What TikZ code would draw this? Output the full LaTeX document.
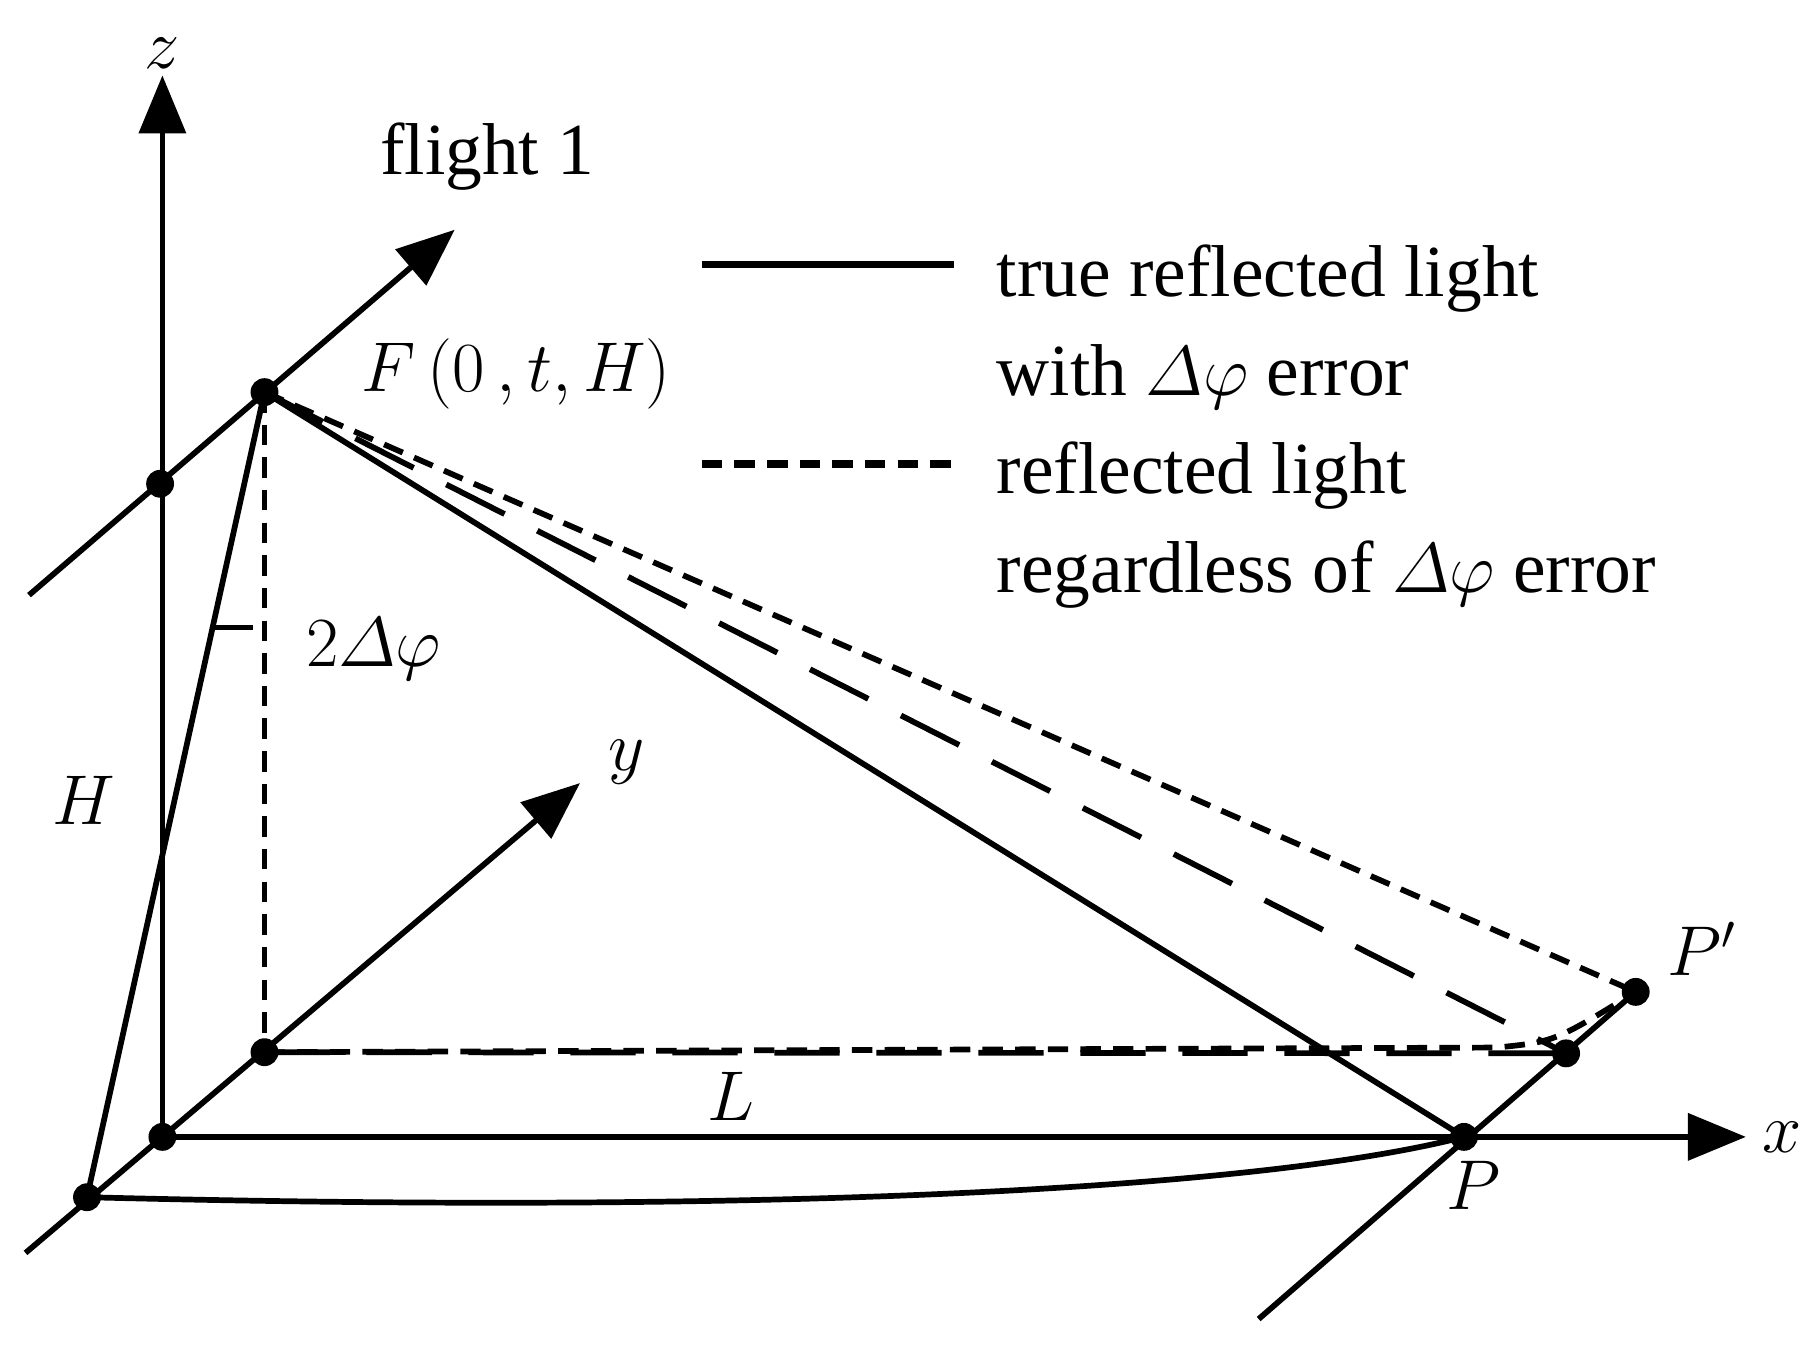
\documentclass[tikz,border=0pt]{standalone}
\usepackage{fontspec}
\setmainfont{Liberation Serif}
\usetikzlibrary{arrows.meta}
\newcommand{\dphi}{\mathnormal{\Delta}\varphi}
\begin{document}
\begin{tikzpicture}[x=0.01cm,y=-0.01cm,line width=1.4pt,
    axis/.style={-{Triangle[length=0.5cm,width=0.4cm]}},
    pt/.style={circle,fill,inner sep=0pt,minimum size=0.24cm},
    lbl/.style={font=\fontsize{18}{21}\selectfont},
    dots/.style={dash pattern=on 5pt off 3pt},
    longdash/.style={dash pattern=on 16pt off 9pt}]
    \useasboundingbox (0,0) rectangle (1568,1160);
    % ground and axes
    \coordinate (O) at (140,980);
    \coordinate (A) at (75,1032);
    \coordinate (Fp) at (228,907);
    \coordinate (F) at (228,338);
    \coordinate (P) at (1262,980);
    \coordinate (Q) at (1350,908);
    \coordinate (Pp) at (1410,855);
    \coordinate (K) at (1290,903);
    \draw[axis] (O) -- (140,65) node[lbl,above,inner sep=1pt] (zl) {$z$};
    \draw[axis] (O) -- (1505,980) node[lbl,right] (xl) {$x$};
    \draw[axis] (22,1080) -- (500,675);
    \node[lbl] (yl) at (540,657) {$y$};
    \draw[axis] (25,513) -- (392,198);
    \node[lbl] (fl) at (420,135) {flight 1};
    \draw (1085,1137) -- (Pp);
    % light paths
    \draw (A) -- (F);
    \draw[dots] (F) -- (Fp);
    \draw (F) -- (P);
    \draw[dots] (F) -- (Pp);
    \draw[longdash] (F) -- (Q);
    \draw[longdash] (Fp) -- (Q);
    \draw[dots] (Fp) -- (K) .. controls (1340,898) .. (Pp);
    \draw (A) .. controls (700,1048) and (1100,1022) .. (P);
    \draw (185,541) -- (218,541);
    % points
    \foreach \p in {O,A,Fp,F,P,Q,Pp} \node[pt] at (\p) {};
    \node[pt] at (138,417) {};
    % labels
    \node[lbl] (lF) at (445,322) {$F\,(0\,,t,H)$};
    \node[lbl] (lphi) at (322,560) {$2\dphi$};
    \node[lbl] (lH) at (72,690) {$H$};
    \node[lbl] (lL) at (630,945) {$L$};
    \node[lbl] (lP) at (1270,1022) {$P$};
    \node[lbl] (lPp) at (1467,818) {$P'$};
    % legend
    \draw[line width=1.8pt] (605,228) -- (822,228);
    \draw[dots,line width=1.8pt] (605,400) -- (822,400);
    \node[lbl,anchor=west] (t1) at (845,240) {true reflected light};
    \node[lbl,anchor=west] (t2) at (845,325) {with $\dphi$ error};
    \node[lbl,anchor=west] (t3) at (845,410) {reflected light};
    \node[lbl,anchor=west] (t4) at (845,495) {regardless of $\dphi$ error};
\end{tikzpicture}
\end{document}
